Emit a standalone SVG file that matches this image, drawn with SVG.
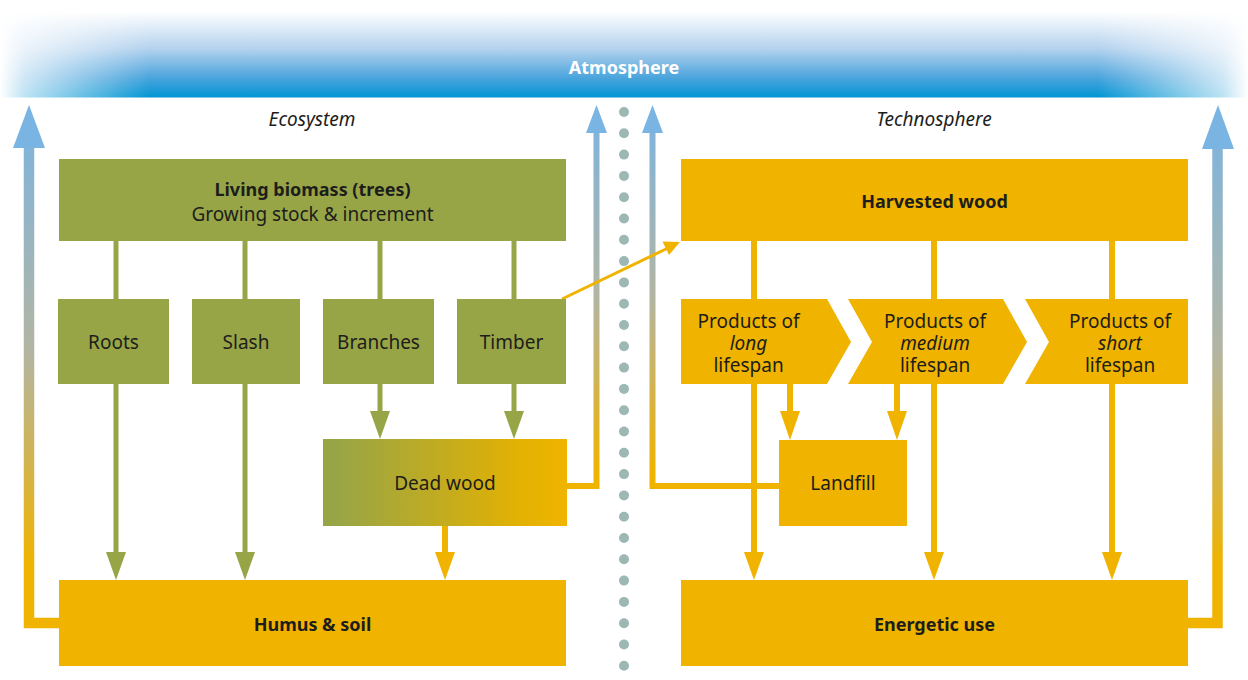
<svg xmlns="http://www.w3.org/2000/svg" width="1248" height="680" viewBox="0 0 1248 680">
  <defs>
    <style>
      .green { fill: #97a547; }
      .yellow { fill: #efb300; }
      .t { font-family: "Noto Sans", "Open Sans", sans-serif; font-size: 19px; fill: #1d1d1b; text-anchor: middle; }
      .b { font-weight: bold; font-size: 18px; }
      .i { font-style: italic; }
      .gl { stroke: #97a547; stroke-width: 5; fill: none; }
      .yl { stroke: #efb300; stroke-width: 6; fill: none; }
      .gh { fill: #97a547; }
      .yh { fill: #efb300; }
    </style>
    <linearGradient id="skyV" x1="0" y1="0" x2="0" y2="1">
      <stop offset="0" stop-color="#ffffff"/>
      <stop offset="0.12" stop-color="#ffffff"/>
      <stop offset="0.5" stop-color="#b4d2ee"/>
      <stop offset="0.8" stop-color="#4aa4dc"/>
      <stop offset="1" stop-color="#0096d3"/>
    </linearGradient>
    <linearGradient id="skyMaskG" x1="0" y1="0" x2="1248" y2="0" gradientUnits="userSpaceOnUse">
      <stop offset="0" stop-color="#000"/>
      <stop offset="0.02" stop-color="#444"/>
      <stop offset="0.12" stop-color="#fff"/>
      <stop offset="0.88" stop-color="#fff"/>
      <stop offset="0.98" stop-color="#444"/>
      <stop offset="1" stop-color="#000"/>
    </linearGradient>
    <mask id="skyMask" maskUnits="userSpaceOnUse" x="0" y="0" width="1248" height="98">
      <rect x="0" y="0" width="1248" height="98" fill="url(#skyMaskG)"/>
    </mask>
    <linearGradient id="outerG" x1="0" y1="105" x2="0" y2="600" gradientUnits="userSpaceOnUse">
      <stop offset="0" stop-color="#7ab4e2"/>
      <stop offset="0.5" stop-color="#b3b5a2"/>
      <stop offset="0.93" stop-color="#efb300"/>
      <stop offset="1" stop-color="#efb300"/>
    </linearGradient>
    <linearGradient id="innerG" x1="0" y1="105" x2="0" y2="490" gradientUnits="userSpaceOnUse">
      <stop offset="0" stop-color="#7ab4e2"/>
      <stop offset="0.5" stop-color="#b3b5a2"/>
      <stop offset="0.95" stop-color="#efb300"/>
      <stop offset="1" stop-color="#efb300"/>
    </linearGradient>
    <linearGradient id="deadG" x1="0" y1="0" x2="1" y2="0">
      <stop offset="0.05" stop-color="#97a547"/>
      <stop offset="0.8" stop-color="#e2b103"/>
      <stop offset="1" stop-color="#f0b400"/>
    </linearGradient>
  </defs>

  <rect x="0" y="0" width="1248" height="680" fill="#ffffff"/>

  <!-- Atmosphere -->
  <g id="atmosphere">
    <rect x="0" y="0" width="1248" height="97.5" fill="url(#skyV)" mask="url(#skyMask)"/>
    <text class="t b" x="624" y="74" style="fill:#ffffff">Atmosphere</text>
  </g>

  <!-- Divider -->
  <g id="divider">
    <line x1="624" y1="112" x2="624" y2="690" stroke="#9db8b4" stroke-width="10" stroke-linecap="round" stroke-dasharray="0 21.3"/>
  </g>

  <text class="t i" x="312" y="126">Ecosystem</text>
  <text class="t i" x="934" y="126">Technosphere</text>

  <!-- Connectors -->
  <g id="connectors">
    <!-- outer atmosphere arrows -->
    <path d="M60,623 H29 V146" stroke="url(#outerG)" stroke-width="10.5" fill="none"/>
    <polygon points="13,148 29,105 45,148" fill="#7ab4e2"/>
    <path d="M1187,623 H1217.5 V146" stroke="url(#outerG)" stroke-width="10.5" fill="none"/>
    <polygon points="1202,149 1218,105 1234,149" fill="#7ab4e2"/>
    <!-- inner atmosphere arrows -->
    <path d="M566,486 H596.5 V130" stroke="url(#innerG)" stroke-width="6" fill="none"/>
    <polygon points="586,133 596.5,105 607,133" fill="#7ab4e2"/>
    <path d="M780,486 H652.5 V130" stroke="url(#innerG)" stroke-width="6" fill="none"/>
    <polygon points="642,133 652.5,105 663,133" fill="#7ab4e2"/>

    <!-- ecosystem green lines -->
    <line class="gl" x1="116" y1="240" x2="116" y2="300"/>
    <line class="gl" x1="245" y1="240" x2="245" y2="300"/>
    <line class="gl" x1="380" y1="240" x2="380" y2="300"/>
    <line class="gl" x1="514" y1="240" x2="514" y2="300"/>
    <line class="gl" x1="116" y1="383" x2="116" y2="554"/>
    <polygon class="gh" points="106,552 126,552 116,580"/>
    <line class="gl" x1="245" y1="383" x2="245" y2="554"/>
    <polygon class="gh" points="235,552 255,552 245,580"/>
    <line class="gl" x1="380" y1="383" x2="380" y2="413"/>
    <polygon class="gh" points="370,411 390,411 380,439"/>
    <line class="gl" x1="514" y1="383" x2="514" y2="413"/>
    <polygon class="gh" points="504,411 524,411 514,439"/>
    <!-- dead wood to humus -->
    <line class="yl" x1="445" y1="525" x2="445" y2="554"/>
    <polygon class="yh" points="435,552 455,552 445,580"/>

    <!-- timber to harvested wood -->
    <line x1="562" y1="299" x2="668" y2="248" stroke="#efb300" stroke-width="3"/>
    <polygon class="yh" points="680,242 662.5,241.5 669,255"/>

    <!-- technosphere lines -->
    <line class="yl" x1="754" y1="240" x2="754" y2="554"/>
    <polygon class="yh" points="744,552 764,552 754,580"/>
    <line class="yl" x1="934" y1="240" x2="934" y2="554"/>
    <polygon class="yh" points="924,552 944,552 934,580"/>
    <line class="yl" x1="1112" y1="240" x2="1112" y2="554"/>
    <polygon class="yh" points="1102,552 1122,552 1112,580"/>
    <line class="yl" x1="790" y1="383" x2="790" y2="413"/>
    <polygon class="yh" points="780,411 800,411 790,440"/>
    <line class="yl" x1="897" y1="383" x2="897" y2="413"/>
    <polygon class="yh" points="887,411 907,411 897,440"/>
  </g>

  <!-- Ecosystem nodes -->
  <g id="living-biomass">
    <rect class="green" x="59" y="159" width="507" height="82"/>
    <text class="t b" x="312.5" y="196">Living biomass (trees)</text>
    <text class="t" x="312.5" y="221">Growing stock &amp; increment</text>
  </g>
  <g id="roots">
    <rect class="green" x="58" y="299" width="111" height="85"/>
    <text class="t" x="113.5" y="349">Roots</text>
  </g>
  <g id="slash">
    <rect class="green" x="192" y="299" width="108" height="85"/>
    <text class="t" x="246" y="349">Slash</text>
  </g>
  <g id="branches">
    <rect class="green" x="323" y="299" width="111" height="85"/>
    <text class="t" x="378.5" y="349">Branches</text>
  </g>
  <g id="timber">
    <rect class="green" x="457" y="299" width="109" height="85"/>
    <text class="t" x="511.5" y="349">Timber</text>
  </g>
  <g id="dead-wood">
    <rect x="323" y="439" width="244" height="87" fill="url(#deadG)"/>
    <text class="t" x="445" y="490">Dead wood</text>
  </g>
  <g id="humus-soil">
    <rect class="yellow" x="59" y="580" width="507" height="86"/>
    <text class="t b" x="312.5" y="631">Humus &amp; soil</text>
  </g>

  <!-- Technosphere nodes -->
  <g id="harvested-wood">
    <rect class="yellow" x="681" y="159" width="507" height="82"/>
    <text class="t b" x="934.5" y="208">Harvested wood</text>
  </g>
  <g id="products-long">
    <polygon class="yellow" points="681,299 827,299 851,342 827,384 681,384"/>
    <text class="t" x="748.5" y="328">Products of</text>
    <text class="t i" x="748.5" y="350">long</text>
    <text class="t" x="748.5" y="372">lifespan</text>
  </g>
  <g id="products-medium">
    <polygon class="yellow" points="848,299 1003,299 1027,342 1003,384 848,384 872,342"/>
    <text class="t" x="935" y="328">Products of</text>
    <text class="t i" x="935" y="350">medium</text>
    <text class="t" x="935" y="372">lifespan</text>
  </g>
  <g id="products-short">
    <polygon class="yellow" points="1025,299 1188,299 1188,384 1025,384 1049,342"/>
    <text class="t" x="1120" y="328">Products of</text>
    <text class="t i" x="1120" y="350">short</text>
    <text class="t" x="1120" y="372">lifespan</text>
  </g>
  <g id="landfill">
    <rect class="yellow" x="779" y="440" width="128" height="86"/>
    <text class="t" x="843" y="490">Landfill</text>
  </g>
  <g id="energetic-use">
    <rect class="yellow" x="681" y="580" width="507" height="86"/>
    <text class="t b" x="934.5" y="631">Energetic use</text>
  </g>
</svg>
